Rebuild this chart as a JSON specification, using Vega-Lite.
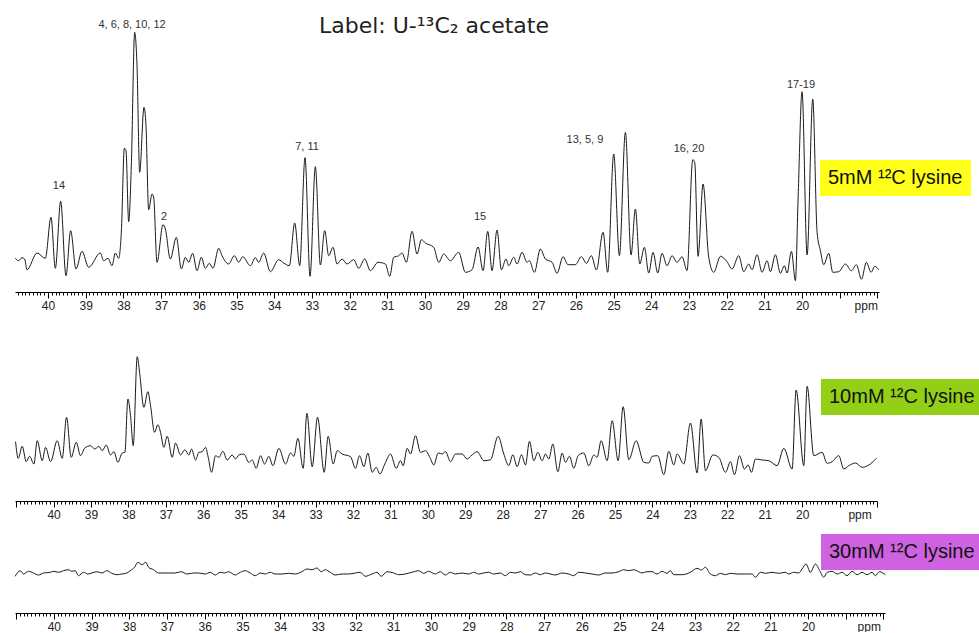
{
"$schema": "https://vega.github.io/schema/vega-lite/v6.json",
"padding": {"left": 13, "top": 14, "right": 0, "bottom": 0},
"background": "white",
"config": {"view": {"stroke": null}, "axis": {"grid": false, "domainColor": "#000", "tickColor": "#000", "domainWidth": 1, "tickWidth": 1, "labelFont": "Liberation Sans", "labelFontSize": 12, "labelColor": "#222", "labelPadding": 2, "labelOverlap": false, "labelFlush": false, "labelBound": false, "title": null}, "legend": {"symbolType": "circle", "symbolSize": 0, "symbolOpacity": 0, "symbolStrokeWidth": 0, "labelOffset": -20, "title": null, "padding": 8, "labelFont": "Liberation Sans", "labelFontSize": 20, "labelColor": "#111", "orient": "none"}},
"datasets": {
"p1": [
{"ppm":40.867,"i":33.7},{"ppm":40.778,"i":31.3},{"ppm":40.690,"i":34.3},{"ppm":40.619,"i":33},{"ppm":40.557,"i":22.3},{"ppm":40.292,"i":39},{"ppm":40.071,"i":33.7},{"ppm":39.920,"i":74.7},{"ppm":39.805,"i":23.7},{"ppm":39.664,"i":90.7},{"ppm":39.523,"i":16.3},{"ppm":39.399,"i":61.3},{"ppm":39.257,"i":23},{"ppm":39.098,"i":40.7},{"ppm":38.921,"i":24.7},{"ppm":38.612,"i":39},{"ppm":38.523,"i":31.3},{"ppm":38.408,"i":33.7},{"ppm":38.302,"i":26.3},{"ppm":38.214,"i":39},{"ppm":38.126,"i":33.7},{"ppm":38.055,"i":59.7},{"ppm":37.975,"i":143.7},{"ppm":37.931,"i":141.3},{"ppm":37.860,"i":70.3},{"ppm":37.790,"i":126.3},{"ppm":37.701,"i":259.7},{"ppm":37.639,"i":226.3},{"ppm":37.569,"i":119.7},{"ppm":37.454,"i":184.7},{"ppm":37.401,"i":166.3},{"ppm":37.330,"i":82.3},{"ppm":37.241,"i":98},{"ppm":37.197,"i":94.7},{"ppm":37.109,"i":29.7},{"ppm":36.950,"i":67.3},{"ppm":36.888,"i":63},{"ppm":36.755,"i":33},{"ppm":36.596,"i":54.7},{"ppm":36.463,"i":23},{"ppm":36.357,"i":34.7},{"ppm":36.269,"i":29.7},{"ppm":36.163,"i":38.7},{"ppm":36.048,"i":21.3},{"ppm":35.933,"i":34.7},{"ppm":35.827,"i":23.7},{"ppm":35.721,"i":28.7},{"ppm":35.623,"i":23.7},{"ppm":35.473,"i":43.7},{"ppm":35.385,"i":36.3},{"ppm":35.208,"i":28},{"ppm":35.057,"i":36.3},{"ppm":34.942,"i":29.7},{"ppm":34.836,"i":35.3},{"ppm":34.633,"i":26.3},{"ppm":34.500,"i":34.3},{"ppm":34.412,"i":29.7},{"ppm":34.279,"i":39},{"ppm":34.103,"i":20.3},{"ppm":33.882,"i":32.3},{"ppm":33.749,"i":29},{"ppm":33.599,"i":26.3},{"ppm":33.457,"i":69},{"ppm":33.324,"i":26.3},{"ppm":33.183,"i":134.3},{"ppm":33.050,"i":15.7},{"ppm":32.909,"i":125.3},{"ppm":32.776,"i":27},{"ppm":32.661,"i":61.3},{"ppm":32.555,"i":36.3},{"ppm":32.440,"i":44.7},{"ppm":32.334,"i":28},{"ppm":32.202,"i":33},{"ppm":32.069,"i":28},{"ppm":31.892,"i":32.3},{"ppm":31.759,"i":23.7},{"ppm":31.600,"i":33},{"ppm":31.450,"i":21.3},{"ppm":31.247,"i":29.7},{"ppm":31.052,"i":28},{"ppm":30.937,"i":15.7},{"ppm":30.831,"i":34.7},{"ppm":30.698,"i":36.3},{"ppm":30.610,"i":39},{"ppm":30.495,"i":29.7},{"ppm":30.345,"i":60.7},{"ppm":30.212,"i":38},{"ppm":30.097,"i":52.3},{"ppm":29.991,"i":49},{"ppm":29.770,"i":44.7},{"ppm":29.637,"i":29.7},{"ppm":29.505,"i":38},{"ppm":29.328,"i":31.3},{"ppm":29.107,"i":39.7},{"ppm":28.930,"i":19.7},{"ppm":28.753,"i":22.3},{"ppm":28.594,"i":45},{"ppm":28.461,"i":21.3},{"ppm":28.338,"i":60.7},{"ppm":28.223,"i":21.3},
{"ppm":28.090,"i":62},{"ppm":27.975,"i":22.3},{"ppm":27.852,"i":33},{"ppm":27.781,"i":26.3},{"ppm":27.648,"i":34.7},{"ppm":27.560,"i":28},{"ppm":27.427,"i":39.7},{"ppm":27.295,"i":29.7},{"ppm":27.233,"i":31.3},{"ppm":27.100,"i":19.7},{"ppm":26.941,"i":43},{"ppm":26.808,"i":33},{"ppm":26.631,"i":29.7},{"ppm":26.499,"i":18.7},{"ppm":26.340,"i":35.3},{"ppm":26.207,"i":27.3},{"ppm":26.013,"i":27.3},{"ppm":25.853,"i":35.3},{"ppm":25.721,"i":28.7},{"ppm":25.588,"i":36.3},{"ppm":25.455,"i":22},{"ppm":25.279,"i":59.7},{"ppm":25.155,"i":19.7},{"ppm":24.996,"i":138},{"ppm":24.845,"i":36.3},{"ppm":24.686,"i":159.7},{"ppm":24.536,"i":37},{"ppm":24.421,"i":83},{"ppm":24.306,"i":28},{"ppm":24.182,"i":44.7},{"ppm":24.067,"i":19},{"ppm":23.952,"i":39.7},{"ppm":23.829,"i":19},{"ppm":23.714,"i":38.7},{"ppm":23.581,"i":26.3},{"ppm":23.448,"i":36.3},{"ppm":23.316,"i":29.7},{"ppm":23.183,"i":35.3},{"ppm":23.051,"i":21.3},{"ppm":22.900,"i":132.3},{"ppm":22.847,"i":129.7},{"ppm":22.759,"i":35.7},{"ppm":22.626,"i":108},{"ppm":22.476,"i":34.7},{"ppm":22.343,"i":19.7},{"ppm":22.166,"i":35.7},{"ppm":21.990,"i":30.3},{"ppm":21.857,"i":23},{"ppm":21.680,"i":36.3},{"ppm":21.547,"i":20.3},{"ppm":21.415,"i":28},{"ppm":21.326,"i":22.3},{"ppm":21.194,"i":37.3},{"ppm":21.061,"i":19.7},{"ppm":20.929,"i":31.3},{"ppm":20.840,"i":20.3},{"ppm":20.708,"i":37.3},{"ppm":20.575,"i":18.7},{"ppm":20.469,"i":26.3},{"ppm":20.398,"i":19},{"ppm":20.283,"i":40.7},{"ppm":20.177,"i":11.3},{"ppm":20.106,"i":93},{"ppm":20.001,"i":200.3},{"ppm":19.867,"i":37},{"ppm":19.717,"i":193},{"ppm":19.602,"i":59.7},{"ppm":19.514,"i":41.3},{"ppm":19.425,"i":27.3},{"ppm":19.293,"i":38.7},{"ppm":19.187,"i":19.7},{"ppm":19.028,"i":20.3},{"ppm":18.851,"i":28},{"ppm":18.692,"i":21.3},{"ppm":18.559,"i":27.3},{"ppm":18.426,"i":12.7},{"ppm":18.294,"i":29.7},{"ppm":18.170,"i":19.7},{"ppm":18.073,"i":25.7},{"ppm":17.967,"i":22.3}
],
"p2": [
{"ppm":41.015,"i":59.3},{"ppm":40.944,"i":42.7},{"ppm":40.837,"i":54.7},{"ppm":40.730,"i":39.3},{"ppm":40.641,"i":44.7},{"ppm":40.525,"i":37},{"ppm":40.436,"i":60.3},{"ppm":40.303,"i":40.3},{"ppm":40.214,"i":53.7},{"ppm":40.080,"i":39.3},{"ppm":39.902,"i":60.3},{"ppm":39.768,"i":42.7},{"ppm":39.653,"i":83.7},{"ppm":39.528,"i":43.7},{"ppm":39.394,"i":58.7},{"ppm":39.279,"i":45.3},{"ppm":39.172,"i":52.7},{"ppm":39.012,"i":55.3},{"ppm":38.896,"i":52},{"ppm":38.789,"i":54.7},{"ppm":38.700,"i":50.3},{"ppm":38.593,"i":56},{"ppm":38.477,"i":46},{"ppm":38.388,"i":49.3},{"ppm":38.281,"i":38.7},{"ppm":38.166,"i":48},{"ppm":38.094,"i":48.7},{"ppm":38.014,"i":102},{"ppm":37.943,"i":85.3},{"ppm":37.872,"i":55.3},{"ppm":37.765,"i":144.3},{"ppm":37.702,"i":128.7},{"ppm":37.587,"i":93.7},{"ppm":37.480,"i":109.3},{"ppm":37.409,"i":95.3},{"ppm":37.302,"i":68.7},{"ppm":37.213,"i":76.3},{"ppm":37.142,"i":68.7},{"ppm":37.053,"i":53.7},{"ppm":36.963,"i":64.7},{"ppm":36.830,"i":43.7},{"ppm":36.741,"i":58},{"ppm":36.607,"i":46},{"ppm":36.492,"i":51.3},{"ppm":36.385,"i":46},{"ppm":36.313,"i":52},{"ppm":36.207,"i":41},{"ppm":36.118,"i":48.7},{"ppm":36.028,"i":49.3},{"ppm":35.939,"i":53.7},{"ppm":35.868,"i":43.7},{"ppm":35.779,"i":28.7},{"ppm":35.672,"i":45.3},{"ppm":35.583,"i":43.7},{"ppm":35.476,"i":49.7},{"ppm":35.361,"i":41},{"ppm":35.227,"i":46},{"ppm":35.138,"i":42},{"ppm":35.049,"i":46},{"ppm":34.916,"i":47},{"ppm":34.782,"i":38.7},{"ppm":34.693,"i":41},{"ppm":34.586,"i":32.7},{"ppm":34.470,"i":45.3},{"ppm":34.363,"i":37},{"ppm":34.248,"i":44.7},{"ppm":34.141,"i":35.3},{"ppm":33.980,"i":52.7},{"ppm":33.802,"i":37},{"ppm":33.669,"i":48},{"ppm":33.580,"i":44.7},{"ppm":33.473,"i":62.7},{"ppm":33.330,"i":32.7},{"ppm":33.232,"i":87.7},{"ppm":33.090,"i":34.3},{"ppm":32.947,"i":83.7},{"ppm":32.769,"i":28.7},{"ppm":32.663,"i":64.7},{"ppm":32.529,"i":37},{"ppm":32.422,"i":50.3},{"ppm":32.289,"i":47},{"ppm":32.066,"i":44.3},{"ppm":31.932,"i":32.7},{"ppm":31.825,"i":45.3},{"ppm":31.710,"i":34.3},{"ppm":31.603,"i":48},{"ppm":31.487,"i":28.7},{"ppm":31.380,"i":33.7},{"ppm":31.282,"i":27},{"ppm":31.149,"i":37},{"ppm":30.997,"i":47},{"ppm":30.846,"i":32.7},{"ppm":30.730,"i":40.3},{"ppm":30.659,"i":35.3},{"ppm":30.552,"i":52.7},{"ppm":30.463,"i":47},{"ppm":30.330,"i":65.3},{"ppm":30.196,"i":48.7},{"ppm":30.062,"i":50.3},{"ppm":29.947,"i":43.7},{"ppm":29.840,"i":36},{"ppm":29.724,"i":48},{"ppm":29.617,"i":47},{"ppm":29.528,"i":49.3},{"ppm":29.394,"i":39.3},{"ppm":29.261,"i":47},{"ppm":29.083,"i":47},{"ppm":28.949,"i":42},{"ppm":28.860,"i":44.7},{"ppm":28.682,"i":49.3},{"ppm":28.504,"i":40.3},{"ppm":28.326,"i":41.3},
{"ppm":28.122,"i":64.7},{"ppm":27.970,"i":47},{"ppm":27.837,"i":35.3},{"ppm":27.730,"i":46.3},{"ppm":27.614,"i":34.3},{"ppm":27.498,"i":46.3},{"ppm":27.392,"i":36},{"ppm":27.285,"i":59.7},{"ppm":27.169,"i":40.3},{"ppm":27.062,"i":48.7},{"ppm":26.946,"i":40.3},{"ppm":26.857,"i":47},{"ppm":26.768,"i":42},{"ppm":26.661,"i":57},{"ppm":26.528,"i":29.3},{"ppm":26.412,"i":48},{"ppm":26.323,"i":38.7},{"ppm":26.216,"i":44.7},{"ppm":26.100,"i":32.7},{"ppm":25.985,"i":45.3},{"ppm":25.833,"i":48},{"ppm":25.700,"i":35.3},{"ppm":25.566,"i":46},{"ppm":25.477,"i":43.7},{"ppm":25.370,"i":60.3},{"ppm":25.210,"i":40.3},{"ppm":25.076,"i":80.3},{"ppm":24.916,"i":40.3},{"ppm":24.782,"i":94.3},{"ppm":24.631,"i":41.3},{"ppm":24.435,"i":60.3},{"ppm":24.230,"i":38.7},{"ppm":24.097,"i":38},{"ppm":24.008,"i":44.7},{"ppm":23.856,"i":45.3},{"ppm":23.696,"i":26.3},{"ppm":23.563,"i":49.7},{"ppm":23.429,"i":36},{"ppm":23.340,"i":47},{"ppm":23.162,"i":37},{"ppm":22.984,"i":78},{"ppm":22.806,"i":28},{"ppm":22.699,"i":82},{"ppm":22.583,"i":30.3},{"ppm":22.387,"i":46},{"ppm":22.227,"i":43.7},{"ppm":22.049,"i":28.7},{"ppm":21.915,"i":39.3},{"ppm":21.808,"i":26.3},{"ppm":21.675,"i":45.3},{"ppm":21.541,"i":32},{"ppm":21.443,"i":36},{"ppm":21.354,"i":28.7},{"ppm":21.247,"i":42},{"ppm":21.069,"i":41},{"ppm":20.891,"i":40.3},{"ppm":20.669,"i":35.3},{"ppm":20.490,"i":52.7},{"ppm":20.268,"i":32},{"ppm":20.161,"i":111},{"ppm":19.956,"i":35.3},{"ppm":19.867,"i":114.7},{"ppm":19.689,"i":45.3},{"ppm":19.466,"i":48.7},{"ppm":19.333,"i":37.7},{"ppm":19.199,"i":39.3},{"ppm":19.021,"i":45.3},{"ppm":18.888,"i":32},{"ppm":18.754,"i":35.3},{"ppm":18.576,"i":38},{"ppm":18.398,"i":33.7},{"ppm":18.220,"i":36},{"ppm":18.015,"i":42.7}
],
"p3": [
{"ppm":41.026,"i":36.7},{"ppm":40.893,"i":42.3},{"ppm":40.805,"i":39},{"ppm":40.672,"i":41.7},{"ppm":40.539,"i":40},{"ppm":40.407,"i":38},{"ppm":40.274,"i":40},{"ppm":40.097,"i":40.7},{"ppm":40.009,"i":41.7},{"ppm":39.876,"i":40.7},{"ppm":39.743,"i":42.3},{"ppm":39.611,"i":43.3},{"ppm":39.523,"i":41.7},{"ppm":39.434,"i":42.3},{"ppm":39.346,"i":37.3},{"ppm":39.213,"i":40.7},{"ppm":39.098,"i":39},{"ppm":38.992,"i":40},{"ppm":38.859,"i":41.3},{"ppm":38.727,"i":40},{"ppm":38.594,"i":42.3},{"ppm":38.462,"i":39.7},{"ppm":38.329,"i":38.3},{"ppm":38.196,"i":39},{"ppm":38.064,"i":40},{"ppm":37.975,"i":42.3},{"ppm":37.860,"i":45.7},{"ppm":37.772,"i":50.7},{"ppm":37.666,"i":48.3},{"ppm":37.560,"i":50.7},{"ppm":37.489,"i":45.7},{"ppm":37.356,"i":43.3},{"ppm":37.224,"i":40},{"ppm":36.958,"i":40},{"ppm":36.782,"i":40},{"ppm":36.622,"i":41.3},{"ppm":36.472,"i":39},{"ppm":36.295,"i":40},{"ppm":36.163,"i":40},{"ppm":35.986,"i":39},{"ppm":35.853,"i":40.7},{"ppm":35.721,"i":38},{"ppm":35.588,"i":40.7},{"ppm":35.473,"i":40},{"ppm":35.367,"i":41.3},{"ppm":35.190,"i":38},{"ppm":35.057,"i":40.7},{"ppm":34.925,"i":42.3},{"ppm":34.792,"i":40},{"ppm":34.660,"i":37.3},{"ppm":34.527,"i":40},{"ppm":34.394,"i":39},{"ppm":34.262,"i":40.7},{"ppm":34.129,"i":39},{"ppm":33.952,"i":39},{"ppm":33.775,"i":39.7},{"ppm":33.599,"i":39},{"ppm":33.422,"i":41.3},{"ppm":33.289,"i":44},{"ppm":33.156,"i":43.3},{"ppm":33.024,"i":45},{"ppm":32.909,"i":41.3},{"ppm":32.803,"i":43.3},{"ppm":32.670,"i":40.7},
{"ppm":32.537,"i":38},{"ppm":32.360,"i":39},{"ppm":32.184,"i":39},{"ppm":32.007,"i":40},{"ppm":31.874,"i":40.7},{"ppm":31.742,"i":36.7},{"ppm":31.565,"i":39},{"ppm":31.432,"i":40.7},{"ppm":31.317,"i":36.7},{"ppm":31.167,"i":41.3},{"ppm":30.990,"i":40},{"ppm":30.857,"i":38.3},{"ppm":30.681,"i":39},{"ppm":30.504,"i":40.7},{"ppm":30.327,"i":42.3},{"ppm":30.194,"i":39.7},{"ppm":30.062,"i":41.7},{"ppm":29.885,"i":39},{"ppm":29.752,"i":41.3},{"ppm":29.620,"i":38},{"ppm":29.487,"i":40.7},{"ppm":29.354,"i":39},{"ppm":29.178,"i":40},{"ppm":29.001,"i":39},{"ppm":28.868,"i":40.7},{"ppm":28.735,"i":39},{"ppm":28.603,"i":40},{"ppm":28.470,"i":40.7},{"ppm":28.338,"i":39},{"ppm":28.161,"i":40},{"ppm":28.028,"i":37.3},{"ppm":27.895,"i":40.7},{"ppm":27.763,"i":40},{"ppm":27.630,"i":41.3},{"ppm":27.498,"i":38.3},{"ppm":27.365,"i":38},{"ppm":27.232,"i":40},{"ppm":27.100,"i":38.3},{"ppm":26.967,"i":40},{"ppm":26.835,"i":39},{"ppm":26.702,"i":38},{"ppm":26.525,"i":40},{"ppm":26.348,"i":39},{"ppm":26.216,"i":37.3},{"ppm":26.083,"i":40.7},{"ppm":25.906,"i":40},{"ppm":25.729,"i":39},{"ppm":25.552,"i":38},{"ppm":25.376,"i":40},{"ppm":25.199,"i":40},{"ppm":25.022,"i":41.3},{"ppm":24.889,"i":43.3},{"ppm":24.757,"i":42.3},{"ppm":24.624,"i":43.3},{"ppm":24.491,"i":41.3},{"ppm":24.403,"i":40},{"ppm":24.270,"i":41.3},
{"ppm":24.138,"i":41.3},{"ppm":24.005,"i":39},{"ppm":23.872,"i":41.7},{"ppm":23.740,"i":39.7},{"ppm":23.651,"i":42.3},{"ppm":23.563,"i":38.3},{"ppm":23.342,"i":38.3},{"ppm":23.121,"i":40.7},{"ppm":22.944,"i":44.7},{"ppm":22.829,"i":43},{"ppm":22.723,"i":45.7},{"ppm":22.590,"i":39},{"ppm":22.458,"i":37.3},{"ppm":22.325,"i":39.7},{"ppm":22.193,"i":38.3},{"ppm":22.060,"i":39.7},{"ppm":21.883,"i":39},{"ppm":21.662,"i":39},{"ppm":21.485,"i":39},{"ppm":21.397,"i":35.7},{"ppm":21.264,"i":40.7},{"ppm":21.132,"i":39.7},{"ppm":20.955,"i":40.7},{"ppm":20.778,"i":39.7},{"ppm":20.601,"i":40.7},{"ppm":20.513,"i":39},{"ppm":20.380,"i":40.7},{"ppm":20.247,"i":40},{"ppm":20.159,"i":44},{"ppm":20.053,"i":49},{"ppm":19.938,"i":40.7},{"ppm":19.805,"i":49},{"ppm":19.690,"i":42.3},{"ppm":19.584,"i":35.7},{"ppm":19.496,"i":40.7},{"ppm":19.363,"i":41.7},{"ppm":19.231,"i":39},{"ppm":19.098,"i":40.7},{"ppm":18.965,"i":37.3},{"ppm":18.833,"i":41.7},{"ppm":18.700,"i":38.3},{"ppm":18.567,"i":40.7},{"ppm":18.435,"i":38.3},{"ppm":18.302,"i":40.7},{"ppm":18.214,"i":37.3},{"ppm":18.108,"i":41.3},{"ppm":17.949,"i":38.3}
],
"peaks": [
{"label":"4, 6, 8, 10, 12","ppm":37.77,"i":267},{"label":"14","ppm":39.71,"i":106},{"label":"2","ppm":36.92,"i":75},{"label":"7, 11","ppm":33.13,"i":145},{"label":"15","ppm":28.54,"i":75},{"label":"13, 5, 9","ppm":25.76,"i":152},{"label":"16, 20","ppm":23.0,"i":143},{"label":"17-19","ppm":20.03,"i":207}
]
},
"vconcat": [
{
"width": 864, "height": 278,
"title": {"text": "Label: U-¹³C₂ acetate", "font": "DejaVu Sans", "fontSize": 22, "fontWeight": "normal", "color": "#222", "anchor": "middle", "frame": "group", "offset": -24, "dx": -13},
"layer": [
{"data": {"name": "p1"}, "mark": {"type": "line", "interpolate": "monotone", "strokeWidth": 1, "clip": false},
"encoding": {
"x": {"field": "ppm", "type": "quantitative", "scale": {"domain": [40.875, 17.96], "nice": false, "zero": false},
 "axis": {"tickCount": 230, "labelExpr": "abs(datum.value - round(datum.value)) < 0.02 ? (round(datum.value) == 19 ? 'ppm' : (datum.value > 19.5 && datum.value < 40.5 ? format(round(datum.value), 'd') : '')) : ''", "tickSize": {"condition": {"test": "abs(datum.value - round(datum.value)) < 0.02", "value": 6}, "value": 3}, "labelOffset": {"condition": {"test": "abs(datum.value - 19) < 0.02", "value": 26}, "value": 0}}},
"y": {"field": "i", "type": "quantitative", "scale": {"domain": [0, 278], "nice": false, "zero": false}, "axis": null},
"color": {"datum": "5mM ¹²C lysine", "scale": {"range": ["#1a1a1a"]}, "legend": {"legendX": 805, "legendY": 146, "fillColor": "#ffff1a"}}
}},
{"data": {"name": "peaks"}, "mark": {"type": "text", "font": "Liberation Sans", "fontSize": 11, "color": "#333", "baseline": "middle", "align": "center"},
"encoding": {"x": {"field": "ppm", "type": "quantitative"}, "y": {"field": "i", "type": "quantitative"}, "text": {"field": "label"}}}
]
},
{
"width": 862, "height": 169,
"data": {"name": "p2"},
"mark": {"type": "line", "interpolate": "monotone", "strokeWidth": 1, "clip": false},
"encoding": {
"x": {"field": "ppm", "type": "quantitative", "scale": {"domain": [41.03, 18.0], "nice": false, "zero": false},
 "axis": {"tickCount": 230, "labelExpr": "abs(datum.value - round(datum.value)) < 0.02 ? (round(datum.value) == 19 ? 'ppm' : (datum.value > 19.5 && datum.value < 40.5 ? format(round(datum.value), 'd') : '')) : ''", "tickSize": {"condition": {"test": "abs(datum.value - round(datum.value)) < 0.02", "value": 6}, "value": 3}, "labelOffset": {"condition": {"test": "abs(datum.value - 19) < 0.02", "value": 20}, "value": 0}}},
"y": {"field": "i", "type": "quantitative", "scale": {"domain": [0, 169], "nice": false, "zero": false}, "axis": null},
"color": {"datum": "10mM ¹²C lysine", "scale": {"range": ["#1a1a1a"]}, "legend": {"legendX": 806, "legendY": 47, "fillColor": "#93cf16"}}
}
},
{
"width": 870, "height": 72,
"data": {"name": "p3"},
"mark": {"type": "line", "interpolate": "monotone", "strokeWidth": 1, "clip": false},
"encoding": {
"x": {"field": "ppm", "type": "quantitative", "scale": {"domain": [41.03, 17.96], "nice": false, "zero": false},
 "axis": {"tickCount": 230, "labelExpr": "abs(datum.value - round(datum.value)) < 0.02 ? (round(datum.value) == 19 ? 'ppm' : (datum.value > 19.5 && datum.value < 40.5 ? format(round(datum.value), 'd') : '')) : ''", "tickSize": {"condition": {"test": "abs(datum.value - round(datum.value)) < 0.02", "value": 6}, "value": 3}, "labelOffset": {"condition": {"test": "abs(datum.value - 19) < 0.02", "value": 23}, "value": 0}}},
"y": {"field": "i", "type": "quantitative", "scale": {"domain": [0, 72], "nice": false, "zero": false}, "axis": null},
"color": {"datum": "30mM ¹²C lysine", "scale": {"range": ["#1a1a1a"]}, "legend": {"legendX": 806, "legendY": -7, "fillColor": "#cf62e0"}}
}
}
],
"resolve": {"scale": {"color": "independent", "x": "independent"}, "legend": {"color": "independent"}},
"spacing": 40,
"bounds": "flush"
}
